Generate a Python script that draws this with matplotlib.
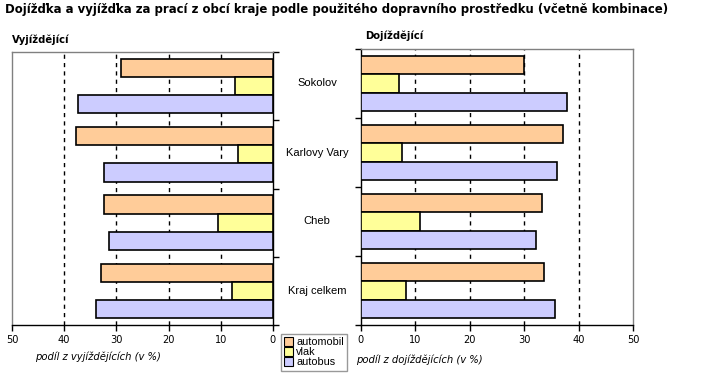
import matplotlib
matplotlib.use("Agg")
import matplotlib.pyplot as plt
import numpy as np
from matplotlib.patches import Patch

categories = ["Sokolov", "Karlovy Vary", "Cheb", "Kraj celkem"]
series = ["automobil", "vlak", "autobus"]
colors = ["#FFCC99", "#FFFF99", "#CCCCFF"]

# vyjizdejici (left panel), % share
out_auto = [29.1, 37.8, 32.3, 32.9]
out_vlak = [7.3, 6.8, 10.5, 7.8]
out_bus = [37.3, 32.3, 31.4, 34.0]

# dojizdejici (right panel), % share
in_auto = [30.0, 37.2, 33.2, 33.6]
in_vlak = [7.0, 7.5, 10.8, 8.3]
in_bus = [37.8, 36.0, 32.1, 35.6]

xticks = [0, 10, 20, 30, 40, 50]

NARROW = dict(family="DejaVu Sans", stretch="condensed")
ARIAL = dict(family=["Liberation Sans", "DejaVu Sans"])

W, H = 705, 392
fig = plt.figure(figsize=(W / 100, H / 100), dpi=100)


def box(l, t, r, b):
    return [l / W, 1 - b / H, (r - l) / W, (b - t) / H]


ax_l = fig.add_axes(box(12, 52, 273, 325))
ax_r = fig.add_axes(box(360.7, 49, 633, 325))

n = len(categories)
y = np.arange(n)[::-1].astype(float)
bh = 0.265


def draw(ax, vals):
    for i, (v, c) in enumerate(zip(vals, colors)):
        ax.barh(y + (1 - i) * bh, v, height=bh, color=c,
                edgecolor="black", linewidth=1.2, zorder=3)
    ax.set_ylim(-0.5, n - 0.5)
    ax.set_xlim(0, 50)
    ax.set_xticks(xticks)
    ax.set_xticklabels([str(t) for t in xticks], fontsize=7.8, **NARROW)
    ax.set_yticks(np.arange(n + 1) - 0.5)
    ax.set_yticklabels([])
    for t in xticks[1:-1]:
        ax.axvline(t, color="black", linestyle=(0, (3, 3)), linewidth=1, zorder=1)
    ax.tick_params(axis="x", direction="out", length=4, width=1, pad=3)
    ax.tick_params(axis="y", direction="out", length=4, width=1)
    for s in ax.spines.values():
        s.set_color("#808080")
        s.set_linewidth(1)
    ax.spines["bottom"].set_color("black")


draw(ax_l, [out_auto, out_vlak, out_bus])
ax_l.invert_xaxis()
ax_l.yaxis.tick_right()
ax_l.spines["right"].set_color("black")

draw(ax_r, [in_auto, in_vlak, in_bus])
ax_r.spines["left"].set_color("black")

# category labels between the panels
for c, yy in zip(categories, y):
    ax_r.annotate(c, xy=(0, yy), xycoords=("axes fraction", "data"),
                  xytext=(-43.5, 0), textcoords="offset pixels",
                  ha="center", va="center", fontsize=8, **ARIAL)

title = fig.text(5 / W, 1 - 10 / H,
                 "Dojížďka a vyjížďka za prací z obcí kraje podle použitého dopravního prostředku (včetně kombinace)",
                 fontweight="bold", fontsize=9.5, va="center", ha="left", **NARROW)
# shrink the title so it spans about 667 px like the original
renderer = fig.canvas.get_renderer()
tw = title.get_window_extent(renderer).width
title.set_fontsize(9.5 * 667 / tw)

fig.text(12 / W, 1 - 40 / H, "Vyjíždějící", fontweight="bold",
         fontsize=8, va="center", **NARROW)
fig.text(365 / W, 1 - 36 / H, "Dojíždějící", fontweight="bold",
         fontsize=8, va="center", **NARROW)
fig.text(35 / W, 1 - 357 / H, "podíl z vyjíždějících (v %)",
         style="italic", fontsize=8, va="center", **NARROW)
fig.text(356 / W, 1 - 360 / H, "podíl z dojíždějících (v %)",
         style="italic", fontsize=8, va="center", **NARROW)

handles = [Patch(facecolor=c, edgecolor="black", linewidth=0.8) for c in colors]
leg = fig.legend(handles, series, loc="upper left",
                 bbox_to_anchor=(281 / W, 1 - 334 / H),
                 prop={"family": ARIAL["family"], "size": 7.8},
                 frameon=True, fancybox=False, handlelength=0.8, handleheight=0.8,
                 handletextpad=0.3, labelspacing=0.0, borderpad=0.3,
                 borderaxespad=0)
leg.get_frame().set_edgecolor("#808080")
leg.get_frame().set_linewidth(1)

fig.savefig("out.png", dpi=100)
